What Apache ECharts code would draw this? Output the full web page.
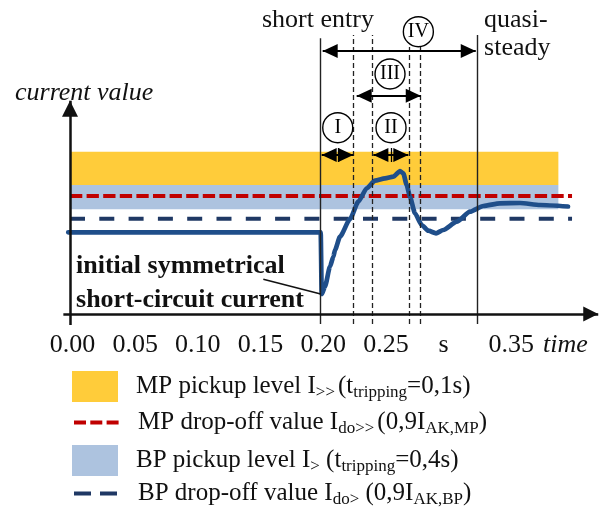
<!DOCTYPE html>
<html><head><meta charset="utf-8">
<script src="https://cdn.jsdelivr.net/npm/echarts@6/dist/echarts.min.js"></script>
<style>html,body{margin:0;padding:0;background:#fff}#c{width:601px;height:510px}</style>
</head><body><div id="c"></div>
<script>
// ---- data ----
const tickValues = [0, 0.05, 0.10, 0.15, 0.20, 0.25, 0.30, 0.35, 0.40];
const tickLabels = ['0.00', '0.05', '0.10', '0.15', '0.20', '0.25', 's', '0.35', 'time'];

const curveTime  = [-0.0014, 0.2, 0.2008, 0.2034, 0.2074, 0.2101, 0.2114, 0.2154, 0.2234, 0.23, 0.2367, 0.2433, 0.2513, 0.2579, 0.2633, 0.2659, 0.2686, 0.2712, 0.2752, 0.2806, 0.2858, 0.292, 0.2978, 0.3085, 0.3191, 0.3297, 0.343, 0.359, 0.375, 0.3973];
const curveValue = [8.17, 8.17, 2.0, 2.73, 4.73, 5.73, 6.4, 7.73, 9.5, 11.23, 12.57, 13.33, 13.57, 13.73, 14.3, 14.07, 12.9, 11.73, 10.07, 8.9, 8.33, 8.07, 8.4, 9.23, 10.23, 10.8, 11.07, 11.1, 10.9, 10.75];

const bandTime = [0, 0.3896];
const mpPickupBand = [12.9, 16.23];
const bpPickupBand = [10.47, 12.9];
const dropTime = [0, 0.4005];
const mpDropOff = 11.8;
const bpDropOff = 9.53;

const solidPhaseT = [0.2, 0.3245];
const solidPhaseTop = [27.57, 27.9];
const dashedPhaseT = [0.226, 0.2412, 0.2704, 0.2792];
const phaseLineBottom = -1.0;
const dashedPhaseTop = 27.9;

const phaseNames = ['I', 'II', 'III', 'IV'];
const phaseArrowFrom = [0.2008, 0.242, 0.2287, 0.2016];
const phaseArrowTo = [0.226, 0.2699, 0.2798, 0.3237];
const phaseArrowLevel = [15.9, 15.9, 21.83, 26.3];
const phaseMidT = [0.214, 0.256];
const phaseCircleT = [0.2136, 0.2561, 0.2553, 0.2779];
const phaseCircleV = [18.63, 18.63, 24.0, 28.23];

const noteTexts = ['short entry', 'quasi-\nsteady', 'current value', 'initial symmetrical\nshort-circuit current'];
const noteT = [0.1978, 0.3303, -0.0439, 0.0048];
const noteV = [29.4, 27.98, 22.07, 3.07];
const leaderFrom = [0.1542, 3.47];
const leaderTo = [0.2, 2.0];

const xAxisLine = [-0.0053, 0.4214];
const yAxisLine = [-1.1, 21.33];
const xRange = [-0.05584, 0.42361];
const yRange = [-1.1, 31.4];

const legendNames = ['MP pickup level', 'MP drop-off value', 'BP pickup level', 'BP drop-off value'];
const legendParts = [
  [['m', 'MP pickup level I'], ['w', '>>'], ['m', '(t'], ['s', 'tripping'], ['m', '=0,1s)']],
  [['m', 'MP drop-off value I'], ['w', 'do>>'], ['m', '(0,9I'], ['s', 'AK,MP'], ['m', ')']],
  [['m', 'BP pickup level I'], ['s', '>'], ['m', ' (t'], ['s', 'tripping'], ['m', '=0,4s)']],
  [['m', 'BP drop-off value I'], ['s', 'do>'], ['m', ' (0,9I'], ['s', 'AK,BP'], ['m', ')']]
];

// ---- styles ----
const FONT = 'Liberation Serif';
const INK = '#111';
const YELLOW = '#FFCC3A';
const LIGHTBLUE = '#ADC3DF';
const RED = '#C00000';
const NAVY = '#1F3864';
const CURVE = '#1F4E8A';
const legendTops = [371, 410, 445, 481];

const chart = echarts.init(document.getElementById('c'), null, {renderer: 'canvas'});

const legendRich = {
  g: {width: 13},
  m: {fontFamily: FONT, fontSize: 25, color: INK, lineHeight: 30},
  s: {fontFamily: FONT, fontSize: 17, color: INK, lineHeight: 10, verticalAlign: 'bottom'},
  w: {fontFamily: FONT, fontSize: 17, color: INK, lineHeight: 10, verticalAlign: 'bottom', padding: [0, 3, 0, 0]}
};
function legendFormatter(name) {
  const parts = legendParts[legendNames.indexOf(name)];
  return '{g|}' + parts.map(p => '{' + p[0] + '|' + p[1] + '}').join('');
}
const legendItems = [
  {name: legendNames[0], icon: 'rect', itemStyle: {color: YELLOW}},
  {name: legendNames[1], itemStyle: {opacity: 0}, lineStyle: {type: [12, 4.3], width: 4, color: RED, cap: 'butt'}},
  {name: legendNames[2], icon: 'rect', itemStyle: {color: LIGHTBLUE}},
  {name: legendNames[3], itemStyle: {opacity: 0}, lineStyle: {type: [17, 9], width: 4, color: NAVY, cap: 'butt'}}
];

const series = [
  {
    name: legendNames[0], type: 'line', data: [], z: 1, symbol: 'none',
    itemStyle: {color: YELLOW}, lineStyle: {color: YELLOW},
    markArea: {silent: true, itemStyle: {color: YELLOW, opacity: 1},
      data: [[{coord: [bandTime[0], mpPickupBand[0]]}, {coord: [bandTime[1], mpPickupBand[1]]}]]}
  },
  {
    name: legendNames[2], type: 'line', data: [], z: 1, symbol: 'none',
    itemStyle: {color: LIGHTBLUE}, lineStyle: {color: LIGHTBLUE},
    markArea: {silent: true, itemStyle: {color: LIGHTBLUE, opacity: 1},
      data: [[{coord: [bandTime[0], bpPickupBand[0]]}, {coord: [bandTime[1], bpPickupBand[1]]}]]}
  },
  {
    name: legendNames[1], type: 'line', z: 2, symbol: 'none', silent: true,
    data: dropTime.map(t => [t, mpDropOff]),
    itemStyle: {color: RED},
    lineStyle: {color: RED, width: 4, type: [12.3, 4.3], cap: 'butt'}
  },
  {
    name: legendNames[3], type: 'line', z: 2, symbol: 'none', silent: true,
    data: dropTime.map(t => [t, bpDropOff]),
    itemStyle: {color: NAVY},
    lineStyle: {color: NAVY, width: 4, type: [15, 14.3], cap: 'butt'}
  },
  {
    name: 'phase lines', type: 'line', data: [], z: 3, silent: true,
    markLine: {
      silent: true, symbol: ['none', 'none'], label: {show: false},
      data: solidPhaseT.map((t, i) => [
        {coord: [t, phaseLineBottom], lineStyle: {color: '#222', width: 1.4, type: 'solid'}},
        {coord: [t, solidPhaseTop[i]]}
      ]).concat(dashedPhaseT.map(t => [
        {coord: [t, phaseLineBottom], lineStyle: {color: '#222', width: 1.3, type: [5, 3]}},
        {coord: [t, dashedPhaseTop]}
      ])).concat([[
        {coord: leaderFrom, lineStyle: {color: INK, width: 1.5, type: 'solid'}},
        {coord: leaderTo}
      ]]).concat(phaseMidT.map(t => [
        {coord: [t, phaseArrowLevel[0] - 0.7], lineStyle: {width: 1.3, color: '#000', type: 'solid'}},
        {coord: [t, phaseArrowLevel[0] + 0.7]}
      ]))
    }
  },
  {
    name: 'current', type: 'line', z: 4, symbol: 'none', silent: true,
    smooth: 0.2, smoothMonotone: 'x',
    data: curveTime.map((t, i) => [t, curveValue[i]]),
    lineStyle: {color: CURVE, width: 4.7, cap: 'round', join: 'round'}
  },
  {
    name: 'axes', type: 'line', data: [], z: 5, silent: true,
    markLine: {
      silent: true, label: {show: false},
      lineStyle: {color: INK, width: 2.5, type: 'solid'},
      data: [
        [{coord: [xAxisLine[0], 0], symbol: 'none'},
         {coord: [xAxisLine[1], 0], symbol: 'triangle', symbolSize: [15, 15], symbolOffset: [0, 7.5]}],
        [{coord: [0, yAxisLine[0]], symbol: 'none'},
         {coord: [0, yAxisLine[1]], symbol: 'triangle', symbolSize: [16, 16], symbolOffset: [0, 8]}]
      ]
    }
  },
  {
    name: 'phase arrows', type: 'line', data: [], z: 6, silent: true,
    markLine: {
      silent: true, label: {show: false},
      symbol: ['triangle', 'triangle'], symbolSize: [14, 15], symbolOffset: [[0, 7.5], [0, 7.5]],
      lineStyle: {color: '#000', width: 2, type: 'solid'},
      data: phaseArrowFrom.map((t, i) => [
        {coord: [t, phaseArrowLevel[i]]}, {coord: [phaseArrowTo[i], phaseArrowLevel[i]]}
      ])
    },
    markPoint: {
      silent: true, symbol: 'circle', symbolSize: 30,
      itemStyle: {color: '#fff', borderColor: '#000', borderWidth: 1.4},
      label: {show: true, position: 'inside', formatter: '{b}', fontFamily: FONT, fontSize: 20, color: '#000'},
      data: phaseNames.map((n, i) => ({name: n, coord: [phaseCircleT[i], phaseCircleV[i]]}))
    }
  },
  {
    name: 'notes', type: 'line', data: [], z: 7, silent: true,
    markPoint: {
      silent: true, symbol: 'circle', symbolSize: 0,
      label: {show: true, position: 'inside', formatter: '{b}', fontFamily: FONT, fontSize: 26, color: INK},
      data: noteTexts.map((txt, i) => {
        const lab = {};
        if (i === 0) { lab.align = 'center'; }
        if (i === 1) { lab.align = 'left'; lab.lineHeight = 28.3; }
        if (i === 2) { lab.align = 'left'; lab.fontStyle = 'italic'; }
        if (i === 3) { lab.align = 'left'; lab.fontWeight = 'bold'; lab.lineHeight = 33.3; }
        return {name: txt, coord: [noteT[i], noteV[i]], label: lab};
      })
    }
  }
];

const option = {
  animation: false,
  backgroundColor: '#fff',
  grid: {left: 0, right: 0, top: 0, height: 325, containLabel: false},
  xAxis: {
    type: 'value', min: xRange[0], max: xRange[1],
    axisLine: {show: false}, axisTick: {show: false}, splitLine: {show: false},
    axisLabel: {
      show: true, customValues: tickValues, margin: 7,
      formatter: function (v) {
        let idx = 0, best = Infinity;
        tickValues.forEach((tv, i) => { const d = Math.abs(tv - v); if (d < best) { best = d; idx = i; } });
        const lab = tickLabels[idx];
        if (lab === 'time') return '{it|' + lab + '}';
        if (lab === 's') return '{u|' + lab + '}';
        return '{n|' + lab + '}';
      },
      rich: {
        n: {fontFamily: FONT, fontSize: 26, color: INK, padding: [0, 0, 0, 5]},
        u: {fontFamily: FONT, fontSize: 26, color: INK, padding: [0, 5, 0, 0]},
        it: {fontFamily: FONT, fontSize: 26, color: INK, fontStyle: 'italic', padding: [0, 12, 0, 0]}
      }
    }
  },
  yAxis: {
    type: 'value', min: yRange[0], max: yRange[1], show: false,
    axisLine: {show: false}, splitLine: {show: false}
  },
  legend: legendItems.map((item, i) => ({
    left: 72, top: legendTops[i], orient: 'vertical', padding: 0,
    itemWidth: 46, itemHeight: 31, selectedMode: false,
    data: [item], formatter: legendFormatter,
    textStyle: {fontFamily: FONT, fontSize: 25, color: INK, rich: legendRich}
  })),
  series: series
};
chart.setOption(option);
</script>
</body></html>
